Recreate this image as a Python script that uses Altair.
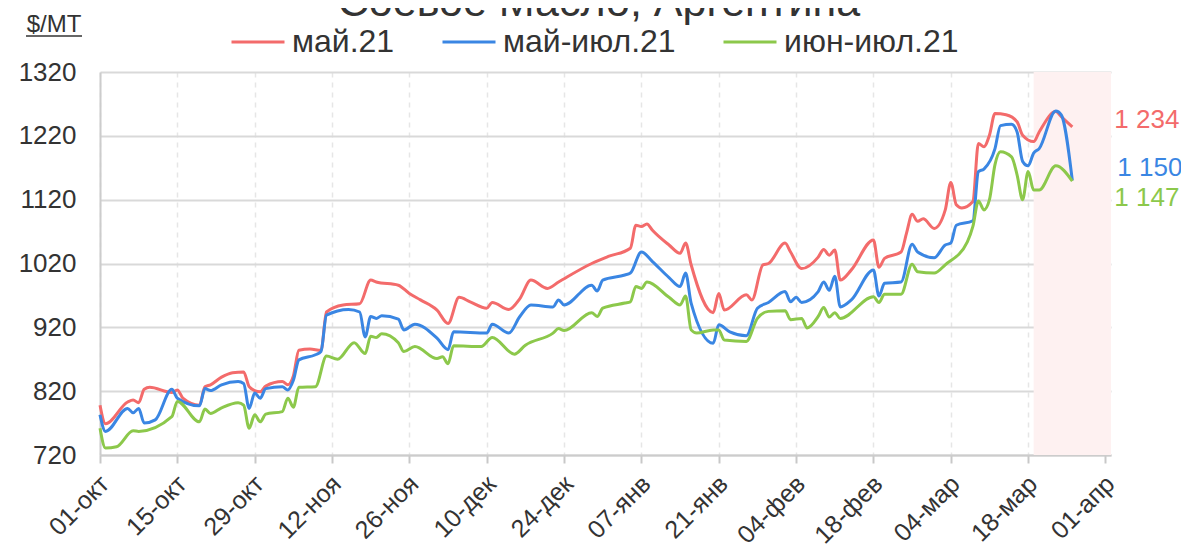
import json
import altair as alt
import pandas as pd

FONT = "Liberation Sans"

base_date = "2020-10-01"

# май.21
may_days = [0, 1, 5, 6, 7, 8, 9, 13, 14, 15, 18, 19, 20, 22, 24, 26, 27, 28, 29, 30,
            33, 34, 35, 36, 38, 40, 41, 44, 47, 49, 50, 54, 56, 58, 61, 63, 65, 67, 70, 71,
            74, 76, 78, 81, 83, 89, 92, 96, 97, 98, 99, 100, 103, 105, 106, 107, 111, 112, 113, 117,
            118, 120, 121, 124, 125, 127, 130, 131, 132, 133, 134, 136, 140, 141, 142, 145, 146, 147, 148, 149,
            151, 153, 154, 155, 156, 158, 159, 160, 161, 162, 164, 166, 167, 169, 170, 173, 174, 176]
may_vals = [798, 769, 803, 806, 802, 823, 826, 818, 822, 809, 798, 827, 830, 842, 849, 850, 827, 821, 819, 828,
            835, 830, 844, 884, 886, 884, 944, 955, 957, 994, 991, 986, 973, 963, 947, 926, 967, 960, 950, 959,
            948, 965, 994, 981, 991, 1020, 1031, 1044, 1080, 1078, 1082, 1072, 1049, 1036, 1052, 1018, 943, 973, 947, 971,
            963, 1018, 1020, 1052, 1038, 1012, 1030, 1042, 1033, 1041, 994, 1010, 1057, 1014, 1028, 1038, 1068, 1097, 1086, 1090,
            1075, 1104, 1147, 1112, 1107, 1117, 1208, 1203, 1221, 1255, 1253, 1242, 1221, 1211, 1226, 1258, 1250, 1234]

# май-июл.21
mayjul_days = [0, 1, 5, 6, 7, 8, 10, 13, 14, 18, 19, 20, 22, 25, 26, 27, 28, 29, 30, 33,
               34, 35, 36, 39, 40, 41, 45, 47, 48, 49, 50, 51, 54, 55, 57, 61, 63, 64, 70, 71,
               74, 76, 78, 82, 83, 84, 89, 90, 91, 95, 96, 98, 100, 103, 105, 106, 107, 111, 112, 114,
               117, 119, 121, 124, 125, 126, 127, 130, 131, 132, 133, 134, 136, 140, 141, 142, 145, 147, 148, 151,
               153, 154, 155, 158, 159, 160, 162, 163, 165, 166, 167, 168, 169, 170, 173, 174, 176]
mayjul_vals = [783, 757, 793, 786, 793, 770, 775, 823, 809, 797, 824, 821, 830, 835, 832, 793, 817, 809, 824, 827,
               822, 837, 869, 877, 882, 939, 948, 944, 905, 937, 934, 938, 933, 916, 925, 903, 885, 913, 911, 925,
               911, 937, 955, 952, 963, 955, 986, 977, 994, 1002, 1005, 1038, 1023, 998, 984, 1005, 958, 895, 924, 913,
               907, 950, 959, 976, 960, 967, 959, 976, 991, 978, 1000, 952, 963, 1010, 969, 989, 991, 1050, 1038, 1029,
               1049, 1052, 1080, 1087, 1164, 1168, 1200, 1236, 1238, 1226, 1180, 1173, 1193, 1200, 1259, 1253, 1150]

# июн-июл.21
junjul_days = [0, 1, 3, 6, 7, 13, 14, 18, 19, 20, 22, 25, 26, 27, 28, 29, 30, 33, 34, 35,
               36, 39, 41, 43, 46, 48, 49, 50, 51, 54, 55, 57, 61, 62, 63, 64, 69, 71, 75, 77,
               82, 83, 84, 89, 90, 91, 95, 96, 97, 98, 99, 103, 105, 106, 107, 108, 111, 112, 113, 117,
               119, 121, 124, 125, 127, 128, 130, 131, 132, 133, 134, 140, 141, 142, 145, 147, 148, 151, 153, 157,
               158, 159, 160, 161, 162, 163, 165, 166, 167, 168, 169, 170, 173, 176]
junjul_vals = [762, 731, 733, 758, 757, 780, 804, 772, 792, 785, 794, 802, 798, 762, 783, 772, 784, 788, 809, 795,
               826, 827, 875, 870, 896, 879, 906, 904, 910, 896, 882, 890, 871, 874, 863, 891, 890, 904, 878, 892,
               911, 918, 915, 943, 937, 950, 958, 960, 984, 981, 991, 967, 955, 969, 916, 911, 916, 916, 900, 898,
               934, 945, 946, 932, 934, 919, 937, 951, 936, 943, 934, 968, 959, 972, 972, 1019, 1007, 1005, 1018, 1054,
               1078, 1118, 1104, 1120, 1175, 1195, 1187, 1159, 1120, 1164, 1135, 1135, 1173, 1149]

series_names = ["май.21", "май-июл.21", "июн-июл.21"]
series_colors = ["#f36b6b", "#3a86e3", "#8cc84b"]
end_labels = ["1 234", "1 150", "1 147"]

tick_days = [0, 14, 28, 42, 56, 70, 84, 98, 112, 126, 140, 154, 168, 182]
month_names = ["янв", "фев", "мар", "апр", "май", "июн", "июл", "авг", "сен", "окт", "ноя", "дек"]
y_ticks = [720, 820, 920, 1020, 1120, 1220, 1320]
domain_end_day = 183
shade_days = [169, 183]

title_text = "Соевое Масло, Аргентина"
unit_text = "$/MT"

# ---------------------------------------------------------------
base = pd.Timestamp(base_date)


def day_to_ts(d):
    return base + pd.Timedelta(days=d)


def day_to_dt(d):
    t = day_to_ts(d)
    return alt.DateTime(year=t.year, month=t.month, date=t.day)


rows = []
for name, days, vals in zip(series_names,
                            [may_days, mayjul_days, junjul_days],
                            [may_vals, mayjul_vals, junjul_vals]):
    for d, v in zip(days, vals):
        rows.append({"date": day_to_ts(d), "value": v, "series": name})
df = pd.DataFrame(rows)

label_expr = ("timeFormat(datum.value, '%d') + '-' + "
              + json.dumps(month_names, ensure_ascii=False) + "[month(datum.value)]")

x_enc = alt.X(
    "date:T",
    scale=alt.Scale(domain=[day_to_dt(0), day_to_dt(domain_end_day)]),
    axis=alt.Axis(
        values=[day_to_dt(d) for d in tick_days],
        labelExpr=label_expr,
        labelAngle=-45,
        labelFontSize=25,
        labelFont=FONT,
        labelColor="#333333",
        labelPadding=8,
        labelOffset=-4,
        labelOverlap=False,
        labelBound=False,
        labelFlush=False,
        tickSize=8,
        tickColor="#c8c8c8",
        tickWidth=2,
        domainColor="#cccccc",
        domainWidth=2,
        grid=True,
        gridColor="#e6e6e6",
        gridDash=[5, 5],
        gridWidth=1.5,
        title=None,
    ),
)
y_enc = alt.Y(
    "value:Q",
    scale=alt.Scale(domain=[720, 1320], nice=False, zero=False),
    axis=alt.Axis(
        values=y_ticks,
        format="d",
        ticks=False,
        labelPadding=24,
        labelFontSize=26,
        labelFont=FONT,
        labelColor="#333333",
        labelOverlap=False,
        domainColor="#cccccc",
        domainWidth=2,
        grid=True,
        gridColor="#d9d9d9",
        gridWidth=2,
        title=None,
    ),
)

shade_df = pd.DataFrame({"date": [day_to_ts(shade_days[0])], "date2": [day_to_ts(shade_days[1])],
                         "value": [720], "value2": [1320]})
shade = alt.Chart(shade_df).mark_rect(color="#fef1f1").encode(
    x=x_enc, x2="date2:T", y=y_enc, y2="value2:Q"
)

lines = alt.Chart(df).mark_line(strokeWidth=3, interpolate="monotone").encode(
    x=x_enc,
    y=y_enc,
    color=alt.Color(
        "series:N",
        scale=alt.Scale(domain=series_names, range=series_colors),
        sort=series_names,
        legend=alt.Legend(
            orient="none",
            legendX=130,
            legendY=-58,
            direction="horizontal",
            title=None,
            labelFontSize=32,
            labelFont=FONT,
            labelColor="#333333",
            labelLimit=400,
            labelOffset=6,
            symbolType="stroke",
            symbolSize=2809,
            symbolStrokeWidth=3,
            columnPadding=41,
            padding=0,
        ),
    ),
)

layers = [shade, lines]

label_dx = [42, 45, 42]
label_dy = [-7, -13, 17]
for i, (days, vals) in enumerate(zip([may_days, mayjul_days, junjul_days],
                                     [may_vals, mayjul_vals, junjul_vals])):
    ldf = pd.DataFrame({"date": [day_to_ts(days[-1])], "value": [vals[-1]], "label": [end_labels[i]]})
    layers.append(
        alt.Chart(ldf).mark_text(align="left", baseline="middle", dx=label_dx[i], dy=label_dy[i],
                                 fontSize=26, font=FONT, color=series_colors[i]).encode(
            x="date:T", y="value:Q", text="label:N")
    )

title_mark = alt.Chart(pd.DataFrame({"t": [title_text]})).mark_text(
    fontSize=43, font=FONT, color="#333333", align="center", baseline="alphabetic"
).encode(text="t:N", x=alt.value(499), y=alt.value(-56))

unit_mark = alt.Chart(pd.DataFrame({"t": [unit_text]})).mark_text(
    fontSize=24, font=FONT, color="#333333", align="center", baseline="alphabetic"
).encode(text="t:N", x=alt.value(-46), y=alt.value(-40))

unit_line = alt.Chart(pd.DataFrame({"t": [unit_text]})).mark_rule(
    color="#333333", strokeWidth=1.3
).encode(x=alt.value(-74), x2=alt.value(-18), y=alt.value(-36))

layers += [title_mark, unit_mark, unit_line]

chart = alt.layer(*layers).properties(
    width=1011,
    height=383,
    autosize=alt.AutoSizeParams(type="none"),
    padding={"left": 92, "top": 64, "right": 70, "bottom": 89},
).configure_view(stroke=None)

chart.save("out.html", embed_options={"renderer": "svg", "actions": False})
